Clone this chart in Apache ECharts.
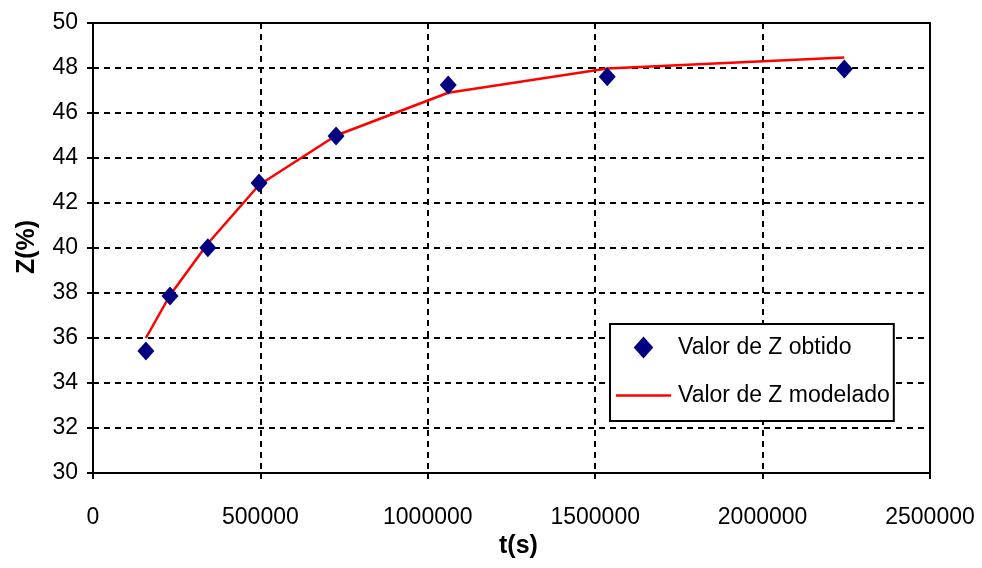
<!DOCTYPE html>
<html>
<head>
<meta charset="utf-8">
<script src="https://cdn.jsdelivr.net/npm/echarts@6/dist/echarts.min.js"></script>
<style>
html,body{margin:0;padding:0;background:#fff;}
#chart{width:982px;height:568px;}
</style>
</head>
<body>
<div id="chart"></div>
<script>
// t(s) values
var tValues = [158000, 230000, 343000, 496000, 726000, 1061000, 1536000, 2244000];
// Observed Z (%)
var zObtido = [35.42, 37.87, 40.01, 42.89, 44.98, 47.24, 47.61, 47.96];
// Modelled Z (%)
var zModelado = [36.0, 37.9, 40.2, 42.8, 45.0, 46.9, 47.98, 48.47];
var seriesNames = ['Valor de Z obtido', 'Valor de Z modelado'];
var xTitle = 't(s)';
var yTitle = 'Z(%)';

var obtidoData = tValues.map(function(t, i){ return [t, zObtido[i]]; });
var modeladoData = tValues.map(function(t, i){ return [t, zModelado[i]]; });

var font = 'Liberation Sans, Arial, sans-serif';
var chart = echarts.init(document.getElementById('chart'));
chart.setOption({
  backgroundColor: '#fff',
  animation: false,
  grid: {left: 93, right: 52, top: 23, bottom: 95, show: true, borderColor: '#000', borderWidth: 2, containLabel: false},
  xAxis: {
    type: 'value', min: 0, max: 2500000, interval: 500000,
    axisLine: {lineStyle: {color: '#000', width: 2}},
    axisTick: {show: true, inside: false, length: 6, lineStyle: {color: '#000', width: 2}},
    axisLabel: {color: '#000', fontFamily: font, fontSize: 23, margin: 33, formatter: function(v){ return String(v); }},
    splitLine: {show: true, lineStyle: {color: '#000', width: 2, type: [6, 5]}}
  },
  yAxis: {
    type: 'value', min: 30, max: 50, interval: 2,
    axisLine: {lineStyle: {color: '#000', width: 2}},
    axisTick: {show: true, inside: false, length: 6, lineStyle: {color: '#000', width: 2}},
    axisLabel: {color: '#000', fontFamily: font, fontSize: 23, margin: 15},
    splitLine: {show: true, lineStyle: {color: '#000', width: 2, type: [6, 5]}}
  },
  legend: {
    orient: 'vertical', left: 610, top: 324,
    backgroundColor: '#fff', borderColor: '#000', borderWidth: 2,
    padding: [12, 4, 14, 6], itemGap: 25, itemWidth: 55, itemHeight: 22,
    symbolKeepAspect: true,
    textStyle: {color: '#000', fontFamily: font, fontSize: 23, padding: [0, 0, 0, 2]},
    data: [
      {name: seriesNames[0], icon: 'path://M8,0L16,9L8,18L0,9Z', itemStyle: {color: '#000080', opacity: 1}},
      {name: seriesNames[1], icon: 'path://M0,0L55,0L55,2.5L0,2.5Z', itemStyle: {color: '#ff0000', opacity: 1}}
    ]
  },
  series: [
    {name: seriesNames[1], type: 'line', data: modeladoData, symbol: 'none', showSymbol: false, z: 2,
     lineStyle: {color: '#ff0000', width: 2.5}, itemStyle: {color: '#ff0000'}},
    {name: seriesNames[0], type: 'scatter', data: obtidoData, symbol: 'diamond', symbolSize: [17, 19], z: 3,
     itemStyle: {color: '#000080', opacity: 1}}
  ],
  graphic: [
    {type: 'text', left: 499, top: 534, style: {text: xTitle, font: 'bold 25px Liberation Sans, Arial, sans-serif', fill: '#000'}},
    {type: 'text', x: 15, y: 274, rotation: Math.PI / 2, style: {text: yTitle, font: 'bold 25px Liberation Sans, Arial, sans-serif', fill: '#000'}}
  ]
});
</script>
</body>
</html>
